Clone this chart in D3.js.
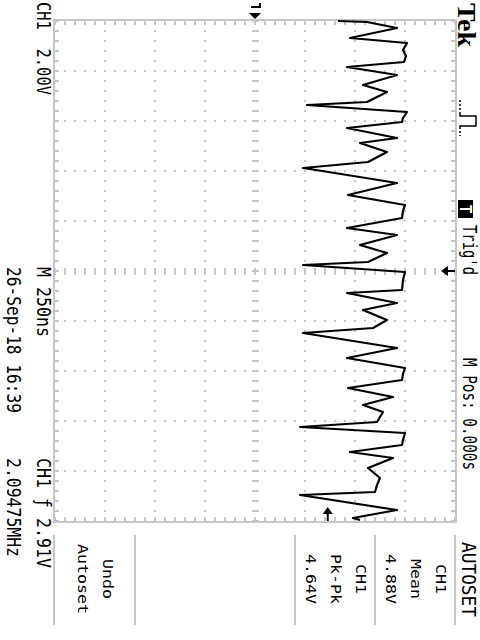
<!DOCTYPE html>
<html>
<head>
<meta charset="utf-8">
<script src="https://cdn.jsdelivr.net/npm/d3@7"></script>
<style>
body{margin:0;background:#fff;}
svg{display:block;}
text{white-space:pre;}
</style>
</head>
<body>
<div id="canvas"></div>
<script>
// waveform: time (ns, trigger = 0) and CH1 volts
var timeNs = [-1250,-1245,-1215,-1165,-1140,-1105,-1075,-1045,-1020,-980,-930,-895,-845,-830,-795,-765,-745,-715,-665,-640,
  -595,-545,-515,-505,-440,-380,-330,-300,-265,-215,-180,-130,-90,-45,-30,5,45,95,110,160,
  195,245,285,310,385,435,485,515,545,585,630,670,705,755,780,810,845,870,905,935,
  985,1035,1070,1105,1120,1195,1235,1245];
var volts = [3.32,4.48,5.68,3.80,6.08,5.92,6.04,5.96,3.68,5.68,4.32,5.28,4.48,2.08,6.08,5.92,5.88,3.68,5.68,4.20,
  5.28,4.52,1.92,2.44,5.68,3.72,6.00,5.92,5.88,3.68,5.68,4.20,5.28,4.52,1.92,6.00,5.92,5.88,3.68,5.68,
  4.32,5.28,4.72,1.92,5.68,3.68,6.00,5.92,5.88,3.72,5.52,4.32,5.12,4.88,1.80,6.00,5.92,5.88,3.80,5.52,
  4.52,5.00,4.88,4.80,1.80,5.68,3.92,4.20];

var voltsPerDiv = 2, nsPerDiv = 250;
var trigLevel = 2.91, trigTime = 0, groundLevel = 0;

var menuFields = [
  {lo:54, hi:135, lines:['Undo','Autoset']},
  {lo:295, hi:375, lines:['CH1','Pk-Pk','4.64V']},
  {lo:375, hi:455, lines:['CH1','Mean','4.88V']}
];

var W = 480, H = 640;
var grid = '#c6c6c6';
var mono = '"DejaVu Sans Mono", monospace';

var svg = d3.select('#canvas').append('svg')
    .attr('width', W)
    .attr('height', H);

// screen is turned on its side: time runs down, volts run right
var scaleT = d3.scaleLinear().domain([-5*nsPerDiv, 5*nsPerDiv]).range([21, 521]);
var scaleV = d3.scaleLinear().domain([-4*voltsPerDiv, 4*voltsPerDiv]).range([55, 455]);

var x0 = scaleV(-8), x1 = scaleV(8), y0 = scaleT(-1250), y1 = scaleT(1250);
var minorT = d3.range(-1250, 1250.1, 50);
var minorV = d3.range(-8, 8.01, 0.4);
var majorT = d3.range(-1000, 1000.1, 250);
var majorV = d3.range(-6, 6.01, 2);

var g = svg.append('g').attr('class', 'graticule');

// dotted division lines
majorT.filter(function(t){ return t !== 0; }).forEach(function(t){
  g.selectAll(null).data(minorV).enter().append('rect')
    .attr('x', function(v){ return scaleV(v) - 1; })
    .attr('y', scaleT(t) - 1)
    .attr('width', 2).attr('height', 2)
    .attr('fill', grid);
});
majorV.filter(function(v){ return v !== 0; }).forEach(function(v){
  g.selectAll(null).data(minorT).enter().append('rect')
    .attr('x', scaleV(v) - 1)
    .attr('y', function(t){ return scaleT(t) - 1; })
    .attr('width', 2).attr('height', 2)
    .attr('fill', grid);
});

// centre cross with longer marks
g.selectAll(null).data(minorT).enter().append('rect')
  .attr('x', scaleV(0) - 3)
  .attr('y', function(t){ return scaleT(t) - 1; })
  .attr('width', 7).attr('height', 2)
  .attr('fill', grid);
g.selectAll(null).data(minorV).enter().append('rect')
  .attr('x', function(v){ return scaleV(v) - 1; })
  .attr('y', scaleT(0) - 3)
  .attr('width', 2).attr('height', 7)
  .attr('fill', grid);

// border ticks
g.selectAll(null).data(minorV).enter().append('rect')
  .attr('x', function(v){ return scaleV(v) - 1; })
  .attr('y', y0).attr('width', 2).attr('height', 4).attr('fill', grid);
g.selectAll(null).data(minorV).enter().append('rect')
  .attr('x', function(v){ return scaleV(v) - 1; })
  .attr('y', y1 - 4).attr('width', 2).attr('height', 4).attr('fill', grid);
g.selectAll(null).data(minorT).enter().append('rect')
  .attr('x', x0).attr('y', function(t){ return scaleT(t) - 1; })
  .attr('width', 4).attr('height', 2).attr('fill', grid);
g.selectAll(null).data(minorT).enter().append('rect')
  .attr('x', x1 - 4).attr('y', function(t){ return scaleT(t) - 1; })
  .attr('width', 4).attr('height', 2).attr('fill', grid);

g.append('rect')
  .attr('x', x0 - 1).attr('y', y0 - 1)
  .attr('width', x1 - x0 + 2).attr('height', y1 - y0 + 2)
  .attr('fill', 'none').attr('stroke', grid).attr('stroke-width', 2);

// trace
var pts = timeNs.map(function(t, i){ return {t:t, v:volts[i]}; });
var line = d3.line()
  .x(function(d){ return scaleV(d.v); })
  .y(function(d){ return scaleT(d.t); });
svg.append('path')
  .datum(pts)
  .attr('d', line)
  .attr('fill', 'none')
  .attr('stroke', '#000')
  .attr('stroke-width', 2.2)
  .attr('stroke-linejoin', 'round');

// markers
var gx = scaleV(groundLevel);
svg.append('path')
  .attr('d', 'M' + (gx-6) + ',13 L' + (gx+6) + ',13 L' + gx + ',19 Z')
  .attr('fill', '#000');
svg.append('path')
  .attr('d', 'M' + (gx-4) + ',7 L' + (gx+5) + ',7 M' + (gx+5) + ',3 L' + (gx+5) + ',8')
  .attr('stroke', '#000').attr('stroke-width', 2).attr('fill', 'none');

var ty = scaleT(trigTime);
svg.append('path')
  .attr('d', 'M441,' + ty + ' L448,' + (ty-5) + ' L448,' + (ty+5) + ' Z')
  .attr('fill', '#000');
svg.append('line').attr('x1', 447).attr('x2', 455).attr('y1', ty).attr('y2', ty)
  .attr('stroke', '#000').attr('stroke-width', 2);

var lx = scaleV(trigLevel);
svg.append('path')
  .attr('d', 'M' + lx + ',507 L' + (lx-5) + ',514 L' + (lx+5) + ',514 Z')
  .attr('fill', '#000');
svg.append('line').attr('x1', lx).attr('x2', lx).attr('y1', 513).attr('y2', 521)
  .attr('stroke', '#000').attr('stroke-width', 2);

// sideways text
function vtext(x, y, s, size, len, anchor, family, weight){
  var t = svg.append('text')
    .attr('transform', 'translate(' + x + ',' + y + ') rotate(90)')
    .attr('font-family', family || mono)
    .attr('font-size', size)
    .attr('font-weight', weight || 'normal')
    .attr('text-anchor', anchor || 'start')
    .attr('fill', '#000')
    .text(s);
  if (len) t.attr('textLength', len).attr('lengthAdjust', 'spacingAndGlyphs');
  return t;
}

vtext(37, 2, 'CH1  2.00V', 20, 93);
vtext(37, 267, 'M 250ns', 20, 70);
vtext(7, 267, '26-Sep-18 16:39', 20, 146);
vtext(37, 458, 'CH1 \u0192 2.91V', 20, 110);
vtext(7, 458, '2.09475MHz', 20, 99);

vtext(458, 3, 'Tek', 25, 44, 'start', '"Liberation Serif", serif', 'bold');
vtext(463, 225, "Trig'd", 19, 50);
vtext(463, 358, 'M Pos: 0.000s', 19, 112);
vtext(462, 542, 'AUTOSET', 20, 75);

// T badge
svg.append('rect').attr('x', 458).attr('y', 200).attr('width', 15).attr('height', 18).attr('fill', '#000');
svg.append('text')
  .attr('transform', 'translate(460,209) rotate(90)')
  .attr('font-family', mono).attr('font-size', 15).attr('font-weight', 'bold')
  .attr('text-anchor', 'middle').attr('fill', '#fff').text('T');

// acquisition icon
svg.append('path')
  .attr('d', 'M460,100 L460,113 M460,127 L460,136')
  .attr('stroke', '#000').attr('stroke-width', 1.5).attr('stroke-dasharray', '2,2').attr('fill', 'none');
svg.append('path')
  .attr('d', 'M460,113 L460,116 L476,116 L476,126 L460,126 L460,127')
  .attr('stroke', '#000').attr('stroke-width', 1.5).attr('fill', 'none');

// bottom menu
var seps = [54, 135, 295, 375, 455];
svg.selectAll('.sep').data(seps).enter().append('line')
  .attr('class', 'sep')
  .attr('x1', function(d){ return d; }).attr('x2', function(d){ return d; })
  .attr('y1', 535).attr('y2', 625)
  .attr('stroke', grid).attr('stroke-width', 2);

menuFields.forEach(function(f){
  var n = f.lines.length;
  var mid = (f.lo + f.hi) / 2;
  f.lines.forEach(function(s, i){
    var bx = mid + (n - 1) * 12.5 - i * 25 - 4;
    vtext(bx, 579, s, 14, s.length * 10, 'middle');
  });
});
</script>
</body>
</html>
